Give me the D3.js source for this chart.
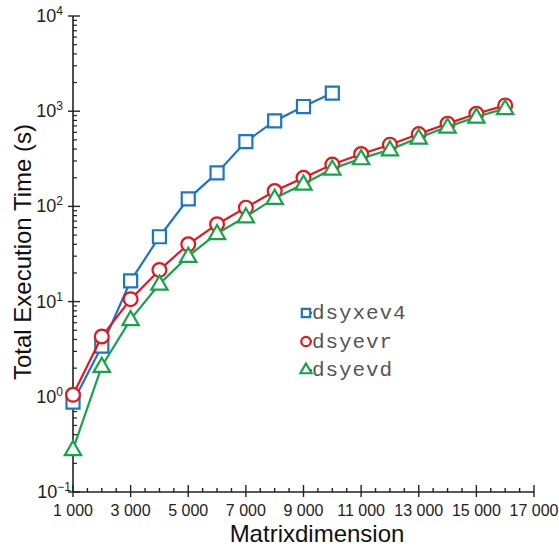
<!DOCTYPE html>
<html>
<head>
<meta charset="utf-8">
<script src="https://cdn.jsdelivr.net/npm/d3@7"></script>
<style>
  html, body { margin: 0; padding: 0; background: #fff; }
  svg { display: block; }
</style>
</head>
<body>
<svg id="chart" width="559" height="552"></svg>
<script>
// Matrix dimensions and execution times (seconds)
const sizesShort = [1000, 2000, 3000, 4000, 5000, 6000, 7000, 8000, 9000, 10000];
const sizesLong = [1000, 2000, 3000, 4000, 5000, 6000, 7000, 8000, 9000, 10000, 11000, 12000, 13000, 14000, 15000, 16000];
const dsyxev4 = [0.88, 3.4, 16.5, 48, 120, 225, 480, 790, 1120, 1550];
const dsyevr = [1.05, 4.3, 10.6, 21.5, 40, 65, 97, 145, 200, 275, 355, 445, 575, 740, 940, 1150];
const dsyevd = [0.28, 2.1, 6.5, 15.3, 30, 52, 78, 122, 172, 248, 318, 395, 525, 685, 870, 1070];
const seriesNames = ["dsyxev4", "dsyevr", "dsyevd"];
const xTicks = [1000, 3000, 5000, 7000, 9000, 11000, 13000, 15000, 17000];
const yExponents = [-1, 0, 1, 2, 3, 4];

const colors = { dsyxev4: "#1c75c6", dsyevr: "#e8141c", dsyevd: "#17a34a" };
const symbols = { dsyxev4: d3.symbolSquare, dsyevr: d3.symbolCircle, dsyevd: d3.symbolTriangle };

const svg = d3.select("#chart");
const plotLeft = 73, plotRight = 534, plotTop = 16, plotBottom = 492;

const x = d3.scaleLinear().domain([1000, 17000]).range([plotLeft, plotRight]);
const y = d3.scaleLog().domain([0.1, 10000]).range([plotBottom, plotTop]);

const axisColor = "#222";
const g = svg.append("g");

// x axis line and ticks
g.append("line").attr("x1", plotLeft).attr("x2", plotRight).attr("y1", plotBottom).attr("y2", plotBottom)
  .attr("stroke", axisColor).attr("stroke-width", 1.6);
d3.range(1000, 17001, 500).forEach(v => {
  const major = (v - 1000) % 2000 === 0;
  g.append("line").attr("x1", x(v)).attr("x2", x(v))
    .attr("y1", major ? plotBottom + 5 : plotBottom).attr("y2", major ? plotBottom - 7 : plotBottom - 4)
    .attr("stroke", axisColor).attr("stroke-width", 1.4);
});
g.selectAll(".xl").data(xTicks).enter().append("text")
  .attr("x", d => x(d)).attr("y", 516)
  .attr("text-anchor", "middle")
  .attr("font-family", "Liberation Sans, Arial, sans-serif")
  .attr("font-size", 16).attr("fill", "#222")
  .text(d => d3.format(",")(d).replace(",", " "));

// y axis line and ticks
g.append("line").attr("x1", plotLeft).attr("x2", plotLeft).attr("y1", plotTop).attr("y2", plotBottom)
  .attr("stroke", axisColor).attr("stroke-width", 1.6);
yExponents.forEach(e => {
  const v = Math.pow(10, e);
  g.append("line").attr("x1", plotLeft - 5).attr("x2", plotLeft + 7).attr("y1", y(v)).attr("y2", y(v))
    .attr("stroke", axisColor).attr("stroke-width", 1.4);
  if (e < 4) {
    for (let k = 2; k <= 9; k++) {
      g.append("line").attr("x1", plotLeft).attr("x2", plotLeft + 4)
        .attr("y1", y(k * v)).attr("y2", y(k * v))
        .attr("stroke", axisColor).attr("stroke-width", 1.2);
    }
  }
  const t = g.append("text")
    .attr("x", e < 0 ? 71 : 63).attr("y", y(v) + 6)
    .attr("text-anchor", "end")
    .attr("font-family", "Liberation Sans, Arial, sans-serif")
    .attr("font-size", 18).attr("fill", "#222");
  t.append("tspan").text("10");
  t.append("tspan").attr("dy", -7).attr("font-size", 12)
    .text(e < 0 ? "\u2212" + Math.abs(e) : String(e));
});

// axis titles
svg.append("text")
  .attr("transform", "translate(31,252) rotate(-90)")
  .attr("text-anchor", "middle")
  .attr("font-family", "Liberation Sans, Arial, sans-serif")
  .attr("font-size", 24).attr("fill", "#111")
  .text("Total Execution Time (s)");
svg.append("text")
  .attr("x", 317).attr("y", 542)
  .attr("text-anchor", "middle")
  .attr("font-family", "Liberation Sans, Arial, sans-serif")
  .attr("font-size", 24).attr("fill", "#111")
  .text("Matrixdimension");

// series
const series = [
  { name: "dsyxev4", xs: sizesShort, ys: dsyxev4, size: 170 },
  { name: "dsyevr", xs: sizesLong, ys: dsyevr, size: 150 },
  { name: "dsyevd", xs: sizesLong, ys: dsyevd, size: 115 }
];
const line = d3.line().x(d => x(d[0])).y(d => y(d[1]));

series.forEach(s => {
  const pts = s.xs.map((v, i) => [v, s.ys[i]]);
  svg.append("path").datum(pts).attr("d", line)
    .attr("fill", "none").attr("stroke", colors[s.name]).attr("stroke-width", 2.2);
  svg.selectAll(".m-" + s.name).data(pts).enter().append("path")
    .attr("transform", d => `translate(${x(d[0])},${y(d[1]) + (s.name === "dsyevd" ? 1 : 0)})`)
    .attr("d", d3.symbol(symbols[s.name], s.size)())
    .attr("fill", "#fff").attr("stroke", colors[s.name]).attr("stroke-width", 2.2);
});

// legend
const legend = svg.append("g").attr("transform", "translate(306,313)");
seriesNames.forEach((name, i) => {
  const row = legend.append("g").attr("transform", `translate(0,${i * 28.5})`);
  row.append("line").attr("x1", -5).attr("x2", 6).attr("y1", 0).attr("y2", 0)
    .attr("stroke", colors[name]).attr("stroke-width", 2);
  row.append("path").attr("d", d3.symbol(symbols[name], name === "dsyevd" ? 55 : 70)())
    .attr("fill", "#fff").attr("stroke", colors[name]).attr("stroke-width", 2.2);
  row.append("text").attr("x", 6).attr("y", 6)
    .attr("font-family", "Liberation Mono, Courier New, monospace")
    .attr("font-size", 21).attr("letter-spacing", 0.9).attr("fill", "#555")
    .text(name);
});
</script>
</body>
</html>
